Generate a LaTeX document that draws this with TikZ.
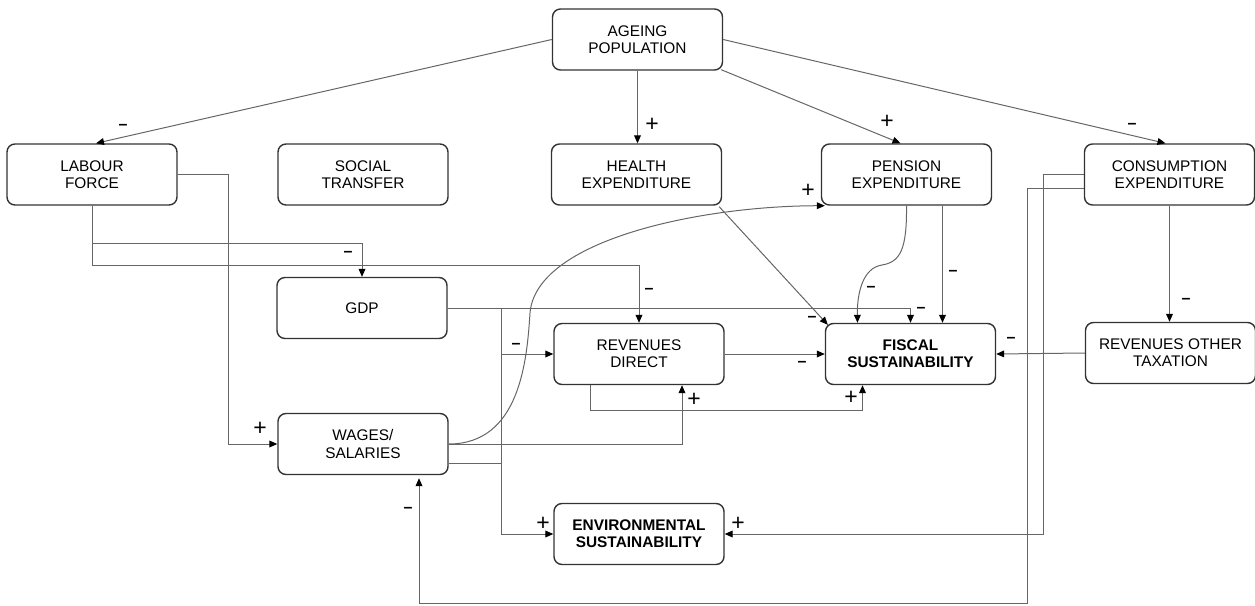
\documentclass[tikz,border=0pt]{standalone}
\usepackage{fontspec}
\setmainfont{Liberation Sans}
\usetikzlibrary{arrows.meta,calc}

\begin{document}
\begin{tikzpicture}[x=0.5pt,y=0.5pt,yscale=-1,xscale=1,
  box/.style={draw=black!80,line width=0.7pt,rounded corners=4pt,minimum width=85pt,minimum height=30.5pt,align=center,inner sep=1pt,font=\fontsize{7.7}{8.6}\selectfont},
  boldbox/.style={box,font=\fontsize{7.7}{8.6}\selectfont\bfseries},
  link/.style={draw=black!60,line width=0.5pt,-{Triangle[length=4pt,width=3.4pt,color=black]}},
  wire/.style={draw=black!60,line width=0.5pt},
  plussign/.style={inner sep=0pt,font=\fontsize{11.5}{11.5}\selectfont},
  minussign/.style={inner sep=0pt,font=\fontsize{8}{8}\selectfont\bfseries}]
\useasboundingbox (0,0) rectangle (1255,606);
%Boxes
\node[box] (ageing) at (637.5,39.5) {AGEING\\POPULATION};
\node[box] (labour) at (92,174.5) {LABOUR\\FORCE};
\node[box] (social) at (363,174.5) {SOCIAL\\TRANSFER};
\node[box] (health) at (636.5,174.5) {HEALTH\\EXPENDITURE};
\node[box] (pension) at (906.5,174.5) {PENSION\\EXPENDITURE};
\node[box] (consum) at (1169.5,174.5) {CONSUMPTION\\EXPENDITURE};
\node[box] (gdp) at (362,308) {GDP};
\node[box] (revdir) at (639,354) {REVENUES\\DIRECT};
\node[boldbox] (fiscal) at (910.5,354) {FISCAL\\SUSTAINABILITY};
\node[box] (revoth) at (1170.5,353) {REVENUES OTHER\\TAXATION};
\node[box] (wages) at (363,444) {WAGES/\\SALARIES};
\node[boldbox] (envir) at (639,534) {ENVIRONMENTAL\\SUSTAINABILITY};
\coordinate (low) at (419,603);
%Links
\draw[link] (ageing.west) -- ($(labour.north)+(4,0)$);
\draw[link] (ageing.south) -- (ageing.south |- health.north);
\draw[link] ($(ageing.south east)+(-2,-1)$) -- ($(pension.north)+(-6,0)$);
\draw[link] (ageing.east) -- ($(consum.north)+(-4,0)$);
\draw[link] (labour.east) -- ++(51,0) |- (wages.west);
\draw[link] (labour.south) -- ++(0,38) -| (gdp.north);
\draw[link] (labour.south) -- ++(0,60) -| (revdir.north);
\draw[link] (gdp.east) -| (fiscal.north);
\draw[link] (gdp.east) -- ++(54,0) |- (revdir.west);
\draw[link] (gdp.east) -- ++(54,0) |- (envir.west);
\draw[wire] ($(wages.east)+(0,19)$) -- ++(53,0);
\draw[link] (wages.east) -| ($(revdir.south)+(43,0)$);
\draw[link] (wages.east) .. controls (520,444) and (527,360) .. (530,313) .. controls (536,240) and (700,206) .. ($(pension.south west)+(4,0)$);
\draw[link] ($(health.south east)+(-3,1)$) -- ($(fiscal.north west)+(3,2)$);
\draw[link] (pension.south) .. controls (907,250) and (900,262) .. (882,265) .. controls (862,268) and (857,295) .. ($(fiscal.north)+(-53,0)$);
\draw[link] ($(pension.south)+(36,0)$) -- ($(fiscal.north)+(32,0)$);
\draw[link] (revdir.east) -- (fiscal.west);
\draw[link] ($(revdir.south)+(-49,0)$) -- ++(0,25) -| ($(fiscal.south)+(-48,0)$);
\draw[link] (revoth.west) -- (fiscal.east);
\draw[link] (consum.south) -- (consum.south |- revoth.north);
\draw[link] (consum.west) -- ++(-40,0) |- (envir.east);
\draw[link] ($(consum.west)+(0,14)$) -- ++(-56,0) |- (low) -- ($(wages.south)+(56,3)$);
%Signs
\node[minussign] (s-lf) at (123,127) {--};
\node[plussign] (s-he) at (652,125) {+};
\node[plussign] (s-pe) at (887,122) {+};
\node[minussign] (s-ce) at (1132,126) {--};
\node[minussign] (s-gdp) at (348,254) {--};
\node[minussign] (s-rd) at (649,291) {--};
\node[minussign] (s-hefs) at (812,319) {--};
\node[minussign] (s-pefs) at (871,289) {--};
\node[minussign] (s-pefs2) at (953,273) {--};
\node[minussign] (s-gdpfs) at (921,310) {--};
\node[minussign] (s-gdprd) at (516,346) {--};
\node[minussign] (s-rdfs) at (802,364) {--};
\node[plussign] (s-rdfs2) at (851,398) {+};
\node[plussign] (s-wgrd) at (694,400) {+};
\node[minussign] (s-rofs) at (1011,340) {--};
\node[minussign] (s-cero) at (1186,301) {--};
\node[plussign] (s-ceen) at (738,524) {+};
\node[minussign] (s-cewg) at (408,510) {--};
\node[plussign] (s-lfwg) at (260,429) {+};
\node[plussign] (s-wgpe) at (808,191) {+};
\node[plussign] (s-gdpen) at (543,524) {+};
\end{tikzpicture}
\end{document}
